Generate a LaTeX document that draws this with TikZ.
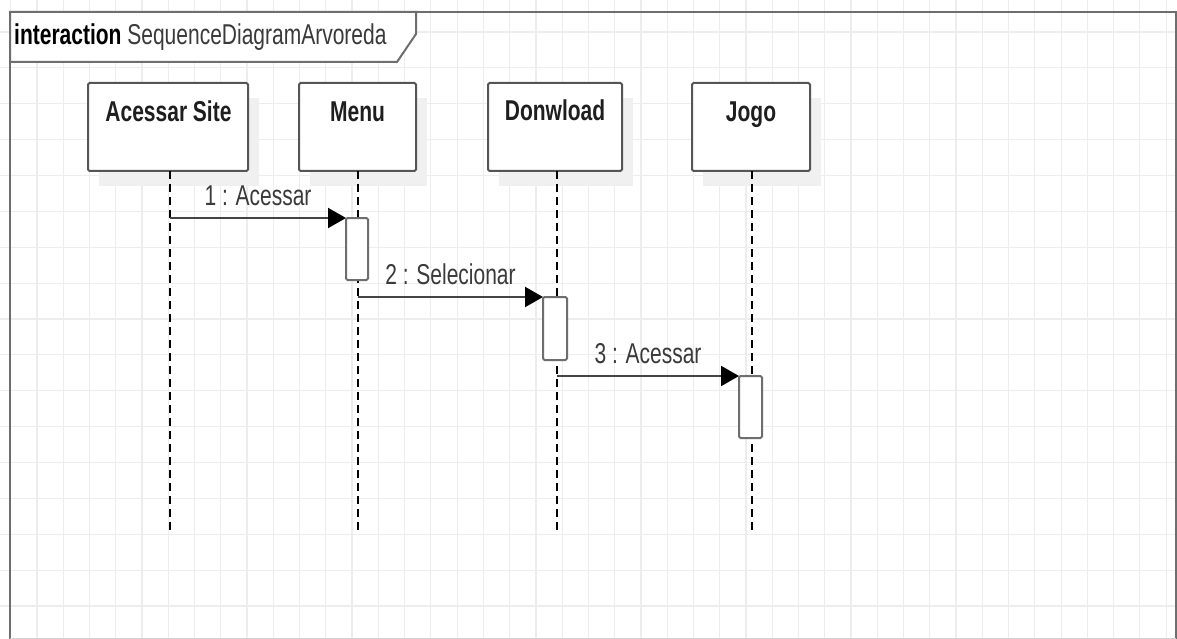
\documentclass[tikz,border=0pt]{standalone}
\usepackage{graphicx}
\usepackage{fontspec}
\setmainfont{Liberation Sans}
\usetikzlibrary{arrows.meta,calc}

\definecolor{gridc}{HTML}{EDEDED}
\definecolor{shadowc}{HTML}{F0F0F0}
\definecolor{framec}{HTML}{6E6E6E}
\definecolor{boxc}{HTML}{555555}
\definecolor{msgc}{HTML}{444444}
\definecolor{labelc}{HTML}{3A3A3A}
\definecolor{namec}{HTML}{1E1E1E}

% text in this diagram is drawn taller than wide
\newcommand{\tallText}[1]{\scalebox{1}[1.366]{#1}}

\pgfdeclarelayer{bg}
\pgfsetlayers{bg,main}

\tikzset{
  every node/.style={font=\fontsize{21}{24}\selectfont},
  gridline/.style={draw=gridc, line width=1.2pt},
  framebox/.style={draw=framec, line width=2pt},
  lifebox/.style={draw=boxc, fill=white, line width=2pt, rounded corners=1.5pt,
    minimum width=#1, minimum height=88pt, inner sep=0pt, outer sep=0pt},
  boxlabel/.style={anchor=base, inner sep=0pt, text=namec, font=\fontsize{21}{24}\selectfont\bfseries},
  lifeline/.style={draw=black, line width=1.4pt, dash pattern=on 8pt off 5pt},
  activation/.style={draw=framec, fill=white, line width=2pt, rounded corners=1.5pt,
    minimum width=22pt, minimum height=62pt, inner sep=0pt, outer sep=0pt},
  msg/.style={draw=msgc, line width=2pt,
    -{Triangle[length=18pt,width=20pt,fill=black,color=black]}},
  msglabel/.style={anchor=base, inner sep=0pt, text=labelc, yshift=13pt},
}

\begin{document}
\begin{tikzpicture}[x=1pt, y=-1pt]
  \useasboundingbox (0,0) rectangle (1177,639);

  % background grid
  \begin{pgfonlayer}{bg}
    \fill[white] (0,0) rectangle (1177,639);
    \foreach \k in {0,...,44}
      \draw[gridline] ({10.7+26.26*\k},0) -- ({10.7+26.26*\k},639);
    \foreach \k in {1,...,17}
      \draw[gridline] (0,{-3.9+35.875*\k}) -- (1177,{-3.9+35.875*\k});
  \end{pgfonlayer}

  % interaction frame
  \draw[framebox] (10,639) -- (10,12) -- (1176,12) -- (1176,639);
  \draw[gray!35, line width=1pt] (10,638) -- (1176,638);
  \filldraw[framebox, fill=white] (10,12) -- (416,12) -- (416,34) -- (397,62) -- (10,62) -- cycle;
  \node[anchor=base west, inner sep=0pt] (title) at (14,45)
    {\tallText{\textbf{interaction} \textcolor{labelc}{SequenceDiagramArvoreda}}};

  % participants
  \node[lifebox=160pt] (site) at (168,127) {};
  \node[lifebox=117pt] (menu) at (357.5,127) {};
  \node[lifebox=134pt] (down) at (555,127) {};
  \node[lifebox=118pt] (jogo) at (751,127) {};

  \node[boxlabel] (siteT) at (168.5,122) {\tallText{Acessar Site}};
  \node[boxlabel] (menuT) at (357.5,122) {\tallText{Menu}};
  \node[boxlabel] (downT) at (555,121) {\tallText{Donwload}};
  \node[boxlabel] (jogoT) at (751,122) {\tallText{Jogo}};

  % drop shadows behind the participants
  \begin{pgfonlayer}{bg}
    \foreach \p in {site,menu,down,jogo}
      \fill[shadowc] ($(\p.north west)+(11,15)$) rectangle ($(\p.south east)+(11,15)$);
  \end{pgfonlayer}

  % lifelines
  \foreach \p/\x in {site/170,menu/358,down/557,jogo/752} {
    \coordinate (\p End) at (\x,531);
    \draw[lifeline] (\p.south -| \p End) -- (\p End);
  }

  % activation bars
  \node[activation] (a1) at (357,249) {};
  \node[activation, minimum width=24pt, minimum height=63pt] (a2) at (555,328.5) {};
  \node[activation, minimum width=23pt] (a3) at (750.5,407) {};

  % messages
  \coordinate (m1s) at (siteEnd |- a1.north);
  \coordinate (m2s) at (menuEnd |- a2.north);
  \coordinate (m3s) at (downEnd |- a3.north);
  \draw[msg] (m1s) -- node[msglabel] (l1) {\tallText{1 : Acessar}} (a1.north west);
  \draw[msg] (m2s) -- node[msglabel] (l2) {\tallText{2 : Selecionar}} (a2.north west);
  \draw[msg] (m3s) -- node[msglabel] (l3) {\tallText{3 : Acessar}} (a3.north west);
\end{tikzpicture}
\end{document}
